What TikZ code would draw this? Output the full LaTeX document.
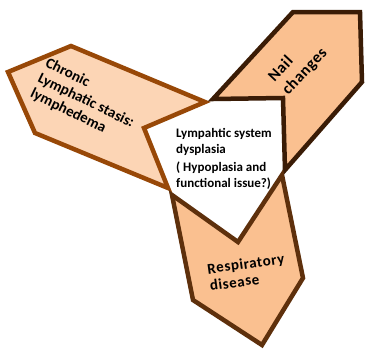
\documentclass[tikz,border=0pt]{standalone}
\usepackage{fontspec}
\setmainfont{Carlito}
\newfontfamily\armfont[LetterSpace=4]{Carlito}
\usetikzlibrary{positioning}
\definecolor{peachlight}{HTML}{FCD5B5}
\definecolor{peach}{HTML}{FAC090}
\definecolor{rustbrown}{HTML}{984807}
\definecolor{darkbrown}{HTML}{3A1C06}
\definecolor{midbrown}{HTML}{5E300C}

\begin{document}
\begin{tikzpicture}[x=1pt, y=-1pt,
  arm/.style={line width=4.5pt, line join=miter},
  lbl/.style={font=\bfseries\fontsize{13}{16}\selectfont, align=left,
    text=black, inner sep=0pt},
  armlbl/.style={lbl, font=\armfont\bfseries\fontsize{15}{17}\selectfont},
]
  \useasboundingbox (0,0) rectangle (365,349);

  % Arms round the centre
  \draw[arm, draw=rustbrown, fill=peachlight]
    (8,72) -- (71,46) -- (205,102) -- (144,128) -- (168,188) -- (35,133) -- cycle;
  \draw[arm, draw=darkbrown, fill=peach]
    (293,12) -- (360,12) -- (362,82) -- (285,170) -- (283,98) -- (213,99) -- cycle;
  \draw[arm, draw=midbrown, fill=peach]
    (172,195) -- (238,242) -- (282,175) -- (303,278) -- (262,345) -- (193,300) -- cycle;

  % Labels
  \node[lbl] (centre) at (224,159)
    {Lympahtic system\\dysplasia\\[2pt]( Hypoplasia and\\functional issue?)};
  \node[armlbl, font=\bfseries\fontsize{15}{17}\selectfont, rotate=-26] (lymph) at (86,101)
    {Chronic\\Lymphatic stasis:\\lymphedema};
  \node[armlbl, font=\armfont\bfseries\fontsize{16}{19}\selectfont, rotate=47] (nail) at (298,65)
    {Nail\\changes};
  \node[armlbl, rotate=8] (resp) at (247,272) {Respiratory\\disease};
\end{tikzpicture}
\end{document}
